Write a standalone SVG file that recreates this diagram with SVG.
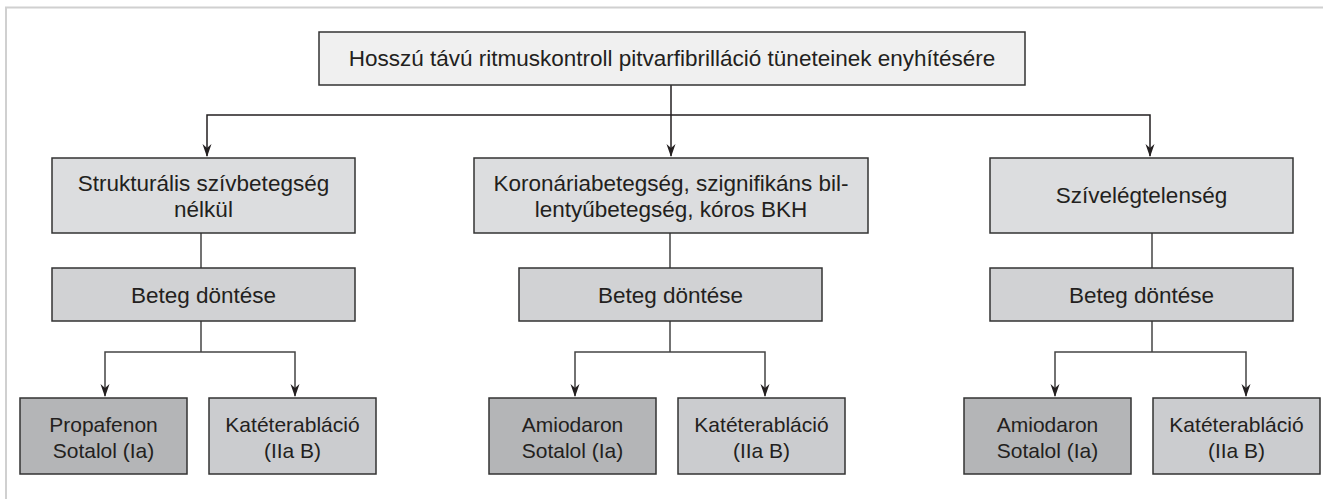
<svg xmlns="http://www.w3.org/2000/svg" width="1323" height="499" viewBox="0 0 1323 499">
<defs>
<style>
.t{font-family:"Liberation Sans",Arial,sans-serif;fill:#231f20;text-anchor:middle}
.f21{font-size:21px}
.f22{font-size:22.5px}
.box{stroke:#333;stroke-width:1.5}
.c0{fill:#f0f0f0}
.c1{fill:#dcdddf}
.c2{fill:#d1d2d4}
.c3{fill:#b4b5b7}
.c4{fill:#cbcccf}
.ln{fill:none;stroke:#231f20;stroke-width:1.5}
.ln2{fill:none;stroke:#444;stroke-width:1.5}
</style>
</defs>
<rect width="1323" height="499" fill="#fff"/>
<path d="M6,499 V7.5 H1323" fill="none" stroke="#d0d0d0" stroke-width="2"/>

<g id="connectors">
<path class="ln" d="M671,85 V156"/>
<path class="ln" d="M207,156 V115 H1150 V156"/>
<path class="ln2" d="M201,233 V268"/>
<path class="ln2" d="M670,233 V268"/>
<path class="ln2" d="M1152,233 V268"/>
<path class="ln2" d="M201,321 V352"/>
<path class="ln2" d="M105,396 V352 H295 V396"/>
<path class="ln2" d="M670,321 V352"/>
<path class="ln2" d="M575,396 V352 H765 V396"/>
<path class="ln2" d="M1152,321 V352"/>
<path class="ln2" d="M1055,396 V352 H1246 V396"/>
<g fill="#231f20">
<path d="M202.5,144 L207,148 L211.5,144 L207,157 Z"/>
<path d="M666.5,144 L671,148 L675.5,144 L671,157 Z"/>
<path d="M1145.5,144 L1150,148 L1154.5,144 L1150,157 Z"/>
<path d="M100.5,384 L105,388 L109.5,384 L105,397 Z"/>
<path d="M290.5,384 L295,388 L299.5,384 L295,397 Z"/>
<path d="M570.5,384 L575,388 L579.5,384 L575,397 Z"/>
<path d="M760.5,384 L765,388 L769.5,384 L765,397 Z"/>
<path d="M1050.5,384 L1055,388 L1059.5,384 L1055,397 Z"/>
<path d="M1241.5,384 L1246,388 L1250.5,384 L1246,397 Z"/>
</g>
</g>

<g id="top">
<rect class="box c0" x="319" y="32" width="706" height="53"/>
<text class="t f22" x="672" y="66">Hosszú távú ritmuskontroll pitvarfibrilláció tüneteinek enyhítésére</text>
</g>

<g id="n1">
<rect class="box c1" x="52" y="158" width="303" height="75"/>
<text class="t f22" x="203.5" y="191">Strukturális szívbetegség</text>
<text class="t f22" x="203.5" y="217">nélkül</text>
</g>
<g id="n2">
<rect class="box c1" x="474" y="158" width="394" height="75"/>
<text class="t f22" x="671" y="191">Koronáriabetegség, szignifikáns bil-</text>
<text class="t f22" x="671" y="217">lentyűbetegség, kóros BKH</text>
</g>
<g id="n3">
<rect class="box c1" x="990" y="158" width="303" height="75"/>
<text class="t f22" x="1141.5" y="203">Szívelégtelenség</text>
</g>

<g id="d1">
<rect class="box c2" x="52" y="268" width="303" height="53"/>
<text class="t f22" x="203.5" y="303">Beteg döntése</text>
</g>
<g id="d2">
<rect class="box c2" x="519" y="268" width="303" height="53"/>
<text class="t f22" x="670.5" y="303">Beteg döntése</text>
</g>
<g id="d3">
<rect class="box c2" x="990" y="268" width="303" height="53"/>
<text class="t f22" x="1141.5" y="303">Beteg döntése</text>
</g>

<g id="b1">
<rect class="box c3" x="20" y="398" width="167" height="76"/>
<text class="t f21" x="103.5" y="432">Propafenon</text>
<text class="t f21" x="103.5" y="458">Sotalol (Ia)</text>
</g>
<g id="b2">
<rect class="box c4" x="209" y="398" width="167" height="76"/>
<text class="t f21" x="292.5" y="432">Katéterabláció</text>
<text class="t f21" x="292.5" y="458">(IIa B)</text>
</g>
<g id="b3">
<rect class="box c3" x="489" y="398" width="167" height="76"/>
<text class="t f21" x="572.5" y="432">Amiodaron</text>
<text class="t f21" x="572.5" y="458">Sotalol (Ia)</text>
</g>
<g id="b4">
<rect class="box c4" x="678" y="398" width="167" height="76"/>
<text class="t f21" x="761.5" y="432">Katéterabláció</text>
<text class="t f21" x="761.5" y="458">(IIa B)</text>
</g>
<g id="b5">
<rect class="box c3" x="964" y="398" width="167" height="76"/>
<text class="t f21" x="1047.5" y="432">Amiodaron</text>
<text class="t f21" x="1047.5" y="458">Sotalol (Ia)</text>
</g>
<g id="b6">
<rect class="box c4" x="1153" y="398" width="167" height="76"/>
<text class="t f21" x="1236.5" y="432">Katéterabláció</text>
<text class="t f21" x="1236.5" y="458">(IIa B)</text>
</g>
</svg>
